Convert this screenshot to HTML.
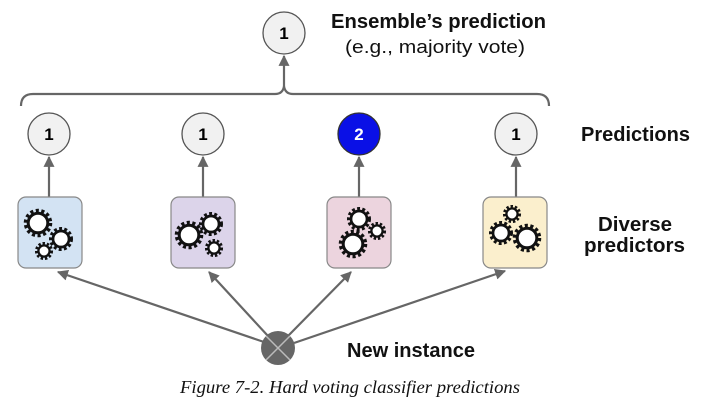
<!DOCTYPE html>
<html><head><meta charset="utf-8"><style>
body{margin:0;background:#fff;}
svg{display:block;}
</style></head><body>
<svg width="703" height="406" viewBox="0 0 703 406" xmlns="http://www.w3.org/2000/svg">
<defs>
<marker id="ah" viewBox="0 0 10 10" refX="9" refY="5" markerWidth="5" markerHeight="5" orient="auto"><path d="M0,0 L10,5 L0,10 z" fill="#666"/></marker>
<g id="g10"><circle r="12" fill="none" stroke="#111" stroke-width="4.5" stroke-dasharray="3 2.4"/><circle r="9.8" fill="#fff" stroke="#111" stroke-width="3"/></g>
<g id="g8"><circle r="10" fill="none" stroke="#111" stroke-width="4" stroke-dasharray="2.8 2.2"/><circle r="8" fill="#fff" stroke="#111" stroke-width="2.7"/></g>
<g id="g6"><circle r="7.3" fill="none" stroke="#111" stroke-width="3.5" stroke-dasharray="2.3 1.8"/><circle r="5.6" fill="#fff" stroke="#111" stroke-width="2.3"/></g>
</defs>
<g stroke="#666" stroke-width="2.2" fill="none">
<path d="M21,106 Q21,94 33,94 L275,94 Q283,94 284,86 Q285,94 293,94 L537,94 Q549,94 549,106"/>
<line x1="284" y1="86" x2="284" y2="56" marker-end="url(#ah)"/>
<line x1="49" y1="197" x2="49" y2="157" marker-end="url(#ah)"/>
<line x1="203" y1="197" x2="203" y2="157" marker-end="url(#ah)"/>
<line x1="359" y1="197" x2="359" y2="157" marker-end="url(#ah)"/>
<line x1="516" y1="197" x2="516" y2="157" marker-end="url(#ah)"/>
<line x1="264" y1="342" x2="58" y2="272" marker-end="url(#ah)"/>
<line x1="268" y1="336" x2="209" y2="272" marker-end="url(#ah)"/>
<line x1="288" y1="336" x2="351" y2="272" marker-end="url(#ah)"/>
<line x1="294" y1="343" x2="505" y2="271" marker-end="url(#ah)"/>
</g>
<g stroke="#555" stroke-width="1.3" fill="#f1f1f1">
<circle cx="284" cy="33" r="21"/>
<circle cx="49" cy="134" r="21"/>
<circle cx="203" cy="134" r="21"/>
<circle cx="516" cy="134" r="21"/>
</g>
<circle cx="359" cy="134" r="21" fill="#0a10e6" stroke="#333" stroke-width="1.3"/>
<g font-family="Liberation Sans, sans-serif" font-weight="bold" font-size="17" text-anchor="middle">
<text x="284" y="39">1</text><text x="49" y="140">1</text><text x="203" y="140">1</text><text x="516" y="140">1</text>
<text x="359" y="140" fill="#fff">2</text>
</g>
<g stroke="#888" stroke-width="1.2">
<rect x="18" y="197" width="64" height="71" rx="8" fill="#d3e3f3"/>
<rect x="171" y="197" width="64" height="71" rx="8" fill="#dcd4ea"/>
<rect x="327" y="197" width="64" height="71" rx="8" fill="#ecd4de"/>
<rect x="483" y="197" width="64" height="71" rx="8" fill="#fbefcd"/>
</g>
<use href="#g10" x="38" y="223"/><use href="#g8" x="61" y="239"/><use href="#g6" x="44" y="251"/>
<use href="#g10" x="189" y="235"/><use href="#g8" x="211" y="224"/><use href="#g6" x="214" y="248"/>
<use href="#g8" x="359" y="219"/><use href="#g6" x="377" y="231"/><use href="#g10" x="353" y="244"/>
<use href="#g6" x="512" y="214"/><use href="#g8" x="501" y="233"/><use href="#g10" x="527" y="238"/>
<circle cx="278" cy="348" r="17" fill="#666"/>
<g stroke="#bbb" stroke-width="1.5"><line x1="266" y1="336" x2="290" y2="360"/><line x1="290" y1="336" x2="266" y2="360"/></g>
<g font-family="Liberation Sans, sans-serif" font-weight="bold" font-size="20" fill="#111">
<text x="331" y="28" textLength="215" lengthAdjust="spacingAndGlyphs">Ensemble’s prediction</text>
<text x="581" y="141" textLength="109" lengthAdjust="spacingAndGlyphs">Predictions</text>
<text x="598" y="231" textLength="74" lengthAdjust="spacingAndGlyphs">Diverse</text>
<text x="584" y="252" textLength="101" lengthAdjust="spacingAndGlyphs">predictors</text>
<text x="347" y="357" textLength="128" lengthAdjust="spacingAndGlyphs">New instance</text>
</g>
<text x="345" y="53" font-family="Liberation Sans, sans-serif" font-size="18" fill="#111" textLength="180" lengthAdjust="spacingAndGlyphs">(e.g., majority vote)</text>
<text x="180" y="393" font-family="Liberation Serif, serif" font-style="italic" font-size="18" fill="#111" textLength="340" lengthAdjust="spacingAndGlyphs">Figure 7-2. Hard voting classifier predictions</text>
</svg>
</body></html>
